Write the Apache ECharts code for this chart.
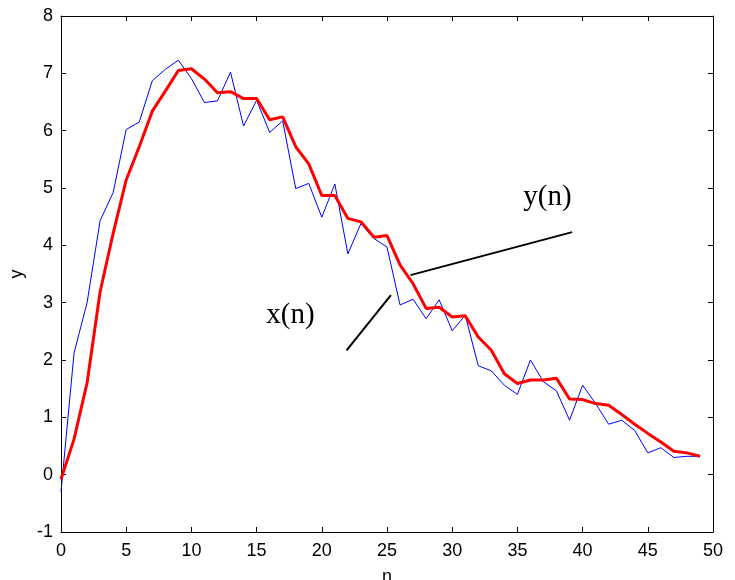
<!DOCTYPE html>
<html>
<head>
<meta charset="utf-8">
<script src="https://cdn.jsdelivr.net/npm/echarts@6/dist/echarts.min.js"></script>
<style>html,body{margin:0;padding:0;background:#fff}#c{width:735px;height:580px}</style>
</head>
<body>
<div id="c"></div>
<script>
var n = [];
for (var i = 0; i < 50; i++) n.push(i);
var xValues = [-0.3, 2.12, 3.0, 4.43, 4.92, 6.02, 6.15, 6.87, 7.07, 7.23,
  6.91, 6.49, 6.52, 7.02, 6.08, 6.53, 5.97, 6.17, 4.99, 5.08,
  4.49, 5.07, 3.85, 4.38, 4.12, 3.97, 2.96, 3.06, 2.72, 3.05,
  2.51, 2.78, 1.90, 1.81, 1.56, 1.40, 2.0, 1.62, 1.46, 0.95,
  1.56, 1.24, 0.88, 0.95, 0.77, 0.38, 0.47, 0.30, 0.32, 0.32];
var yValues = [-0.08, 0.62, 1.6, 3.19, 4.21, 5.14, 5.72, 6.34, 6.69, 7.05,
  7.08, 6.90, 6.66, 6.68, 6.56, 6.56, 6.19, 6.24, 5.72, 5.42,
  4.87, 4.87, 4.47, 4.41, 4.14, 4.17, 3.66, 3.33, 2.90, 2.92,
  2.75, 2.77, 2.40, 2.17, 1.76, 1.59, 1.65, 1.65, 1.68, 1.32,
  1.31, 1.24, 1.21, 1.05, 0.88, 0.72, 0.57, 0.41, 0.38, 0.32];
var xTicks = [0, 5, 10, 15, 20, 25, 30, 35, 40, 45, 50];
var yTicks = [-1, 0, 1, 2, 3, 4, 5, 6, 7, 8];
// annotation (label text, text anchor, pointer line start/end) in data coords
var annoY = {text: 'y(n)', at: [37.3, 4.84], line: [[26.8, 3.48], [39.2, 4.23]]};
var annoX = {text: 'x(n)', at: [17.6, 2.78], line: [[21.9, 2.17], [25.3, 3.13]]};

function pairs(vals) { return n.map(function (k, i) { return [k, vals[i]]; }); }

var chart = echarts.init(document.getElementById('c'), null, {renderer: 'canvas'});
var tickFont = {color: '#000', fontFamily: 'Liberation Sans, Arial, sans-serif', fontSize: 18};
var axLine = {show: true, onZero: false, lineStyle: {color: '#000', width: 1}};
var axTick = {show: true, inside: true, length: 5, lineStyle: {color: '#000', width: 1}};
chart.setOption({
  animation: false,
  backgroundColor: '#fff',
  grid: {left: 61, right: 22, top: 16, bottom: 48, containLabel: false, outerBoundsMode: 'none'},
  xAxis: [{
    type: 'value', min: xTicks[0], max: xTicks[xTicks.length - 1], interval: 5,
    position: 'bottom', axisLine: axLine, axisTick: axTick, splitLine: {show: false},
    axisLabel: Object.assign({margin: 10}, tickFont),
    name: 'n', nameLocation: 'middle', nameGap: 36,
    nameTextStyle: tickFont
  }, {
    type: 'value', min: xTicks[0], max: xTicks[xTicks.length - 1], interval: 5,
    position: 'top', axisLine: axLine, axisTick: axTick, splitLine: {show: false},
    axisLabel: {show: false}
  }],
  yAxis: [{
    type: 'value', min: yTicks[0], max: yTicks[yTicks.length - 1], interval: 1,
    position: 'left', axisLine: axLine, axisTick: axTick, splitLine: {show: false},
    axisLabel: Object.assign({margin: 8}, tickFont),
    name: 'y', nameLocation: 'middle', nameGap: 35,
    nameTextStyle: tickFont
  }, {
    type: 'value', min: yTicks[0], max: yTicks[yTicks.length - 1], interval: 1,
    position: 'right', axisLine: axLine, axisTick: axTick, splitLine: {show: false},
    axisLabel: {show: false}
  }],
  series: [{
    name: 'x(n)', type: 'line', data: pairs(xValues), showSymbol: false, symbol: 'none',
    lineStyle: {color: '#0000ff', width: 1}, z: 2,
    markLine: {
      silent: true, symbol: ['none', 'none'],
      lineStyle: {color: '#000', width: 2, type: 'solid'}, label: {show: false},
      data: [[{coord: annoX.line[0]}, {coord: annoX.line[1]}], [{coord: annoY.line[0]}, {coord: annoY.line[1]}]]
    },
    markPoint: {
      silent: true, symbol: 'circle', symbolSize: 0,
      label: {show: true, position: 'inside', color: '#000', fontFamily: 'Liberation Serif, Times New Roman, serif', fontSize: 29,
        formatter: function (p) { return p.name; }},
      data: [{name: annoX.text, coord: annoX.at}, {name: annoY.text, coord: annoY.at}]
    }
  }, {
    name: 'y(n)', type: 'line', data: pairs(yValues), showSymbol: false, symbol: 'none',
    lineStyle: {color: '#ff0000', width: 3}, z: 3
  }]
});
</script>
</body>
</html>
